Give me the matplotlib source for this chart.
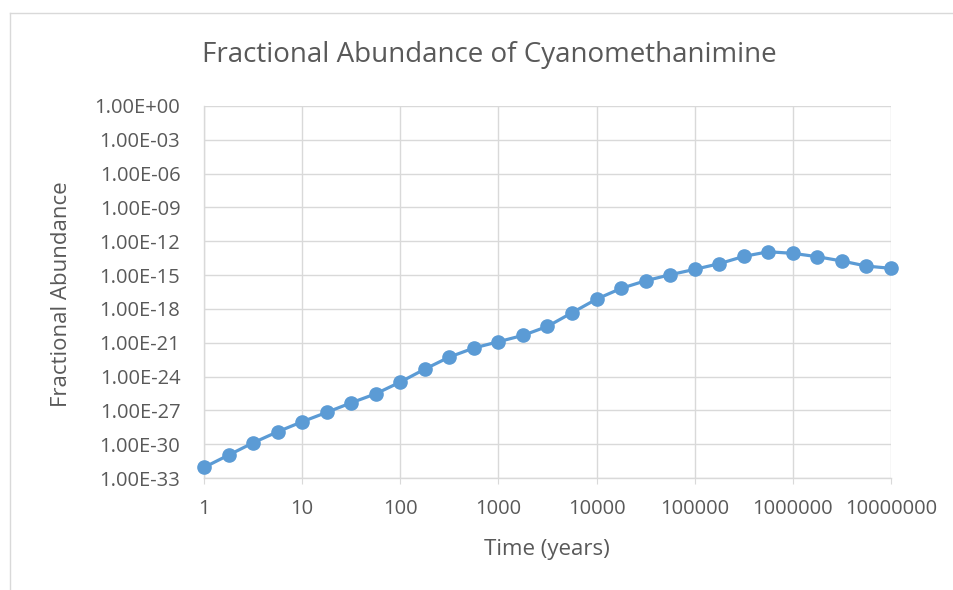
import numpy as np
import matplotlib
matplotlib.use("Agg")
import matplotlib.pyplot as plt
from matplotlib.lines import Line2D
from matplotlib.ticker import FixedLocator, FixedFormatter, NullLocator

# Data: time (years), 4 points per decade from 1 to 1e7
log_time = [0, 0.25, 0.5, 0.75, 1, 1.25, 1.5, 1.75, 2, 2.25, 2.5, 2.75,
            3, 3.25, 3.5, 3.75, 4, 4.25, 4.5, 4.75, 5, 5.25, 5.5, 5.75,
            6, 6.25, 6.5, 6.75, 7]
log_abundance = [-32.06, -30.97, -29.88, -28.90, -28.01, -27.18, -26.33, -25.53,
                 -24.49, -23.34, -22.27, -21.47, -20.91, -20.35, -19.55, -18.34,
                 -17.13, -16.18, -15.50, -14.97, -14.49, -13.99, -13.34, -12.93,
                 -13.07, -13.37, -13.75, -14.20, -14.40]
x_ticks = [1, 10, 100, 1000, 10000, 100000, 1000000, 10000000]
x_tick_labels = ["1", "10", "100", "1000", "10000", "100000", "1000000", "10000000"]
y_exps = [0, -3, -6, -9, -12, -15, -18, -21, -24, -27, -30, -33]
y_tick_labels = ["1.00E+00", "1.00E-03", "1.00E-06", "1.00E-09", "1.00E-12", "1.00E-15",
                 "1.00E-18", "1.00E-21", "1.00E-24", "1.00E-27", "1.00E-30", "1.00E-33"]

time = [10 ** v for v in log_time]
abundance = [10.0 ** v for v in log_abundance]

plt.rcParams['font.family'] = ['Open Sans', 'DejaVu Sans']
txt = '#595959'
grid = '#d9d9d9'
blue = '#5B9BD5'

fig = plt.figure(figsize=(9.54, 5.9), dpi=100)
ax = fig.add_axes([204/954, 1-478/590, (891-204)/954, (478-106)/590])

ax.plot(time, abundance, color=blue, lw=2.3, marker='o', ms=9.5,
        markerfacecolor=blue, markeredgecolor=blue, zorder=3, clip_on=False)
ax.set_xscale('log')
ax.set_yscale('log')
ax.set_xlim(1, 1e7)
ax.set_ylim(1e-33, 1e0)

ax.xaxis.set_major_locator(FixedLocator(x_ticks))
ax.xaxis.set_major_formatter(FixedFormatter(x_tick_labels))
ax.xaxis.set_minor_locator(NullLocator())
yt = [10.0 ** e for e in y_exps]
ax.yaxis.set_major_locator(FixedLocator(yt))
ax.yaxis.set_major_formatter(FixedFormatter(y_tick_labels))
ax.yaxis.set_minor_locator(NullLocator())

ax.grid(True, which='major', color=grid, lw=1.0)
ax.set_axisbelow(True)
for s in ['top', 'right']:
    ax.spines[s].set_visible(False)
for s in ['left', 'bottom']:
    ax.spines[s].set_color(grid)
    ax.spines[s].set_linewidth(1.0)
ax.tick_params(axis='y', length=0, pad=17, labelsize=14.5, labelcolor=txt)
ax.tick_params(axis='x', length=4, color=grid, pad=11, labelsize=14.5, labelcolor=txt)

fig.text(547/954, 1-549/590, 'Time (years)', ha='center', va='center',
         fontsize=16, color=txt)
fig.text(62/954, 1-294/590, 'Fractional Abundance', ha='center', va='center',
         rotation=90, fontsize=16, color=txt)
fig.text(489/954, 1-55/590, 'Fractional Abundance of Cyanomethanimine',
         ha='center', va='center', fontsize=20, color=txt)

# chart border (left and top visible)
fig.add_artist(Line2D([10/954, 10/954], [0, 1-13/590], transform=fig.transFigure,
                      color=grid, lw=1.0))
fig.add_artist(Line2D([10/954, 1], [1-13/590, 1-13/590], transform=fig.transFigure,
                      color=grid, lw=1.0))

fig.savefig('out.png', dpi=100)
